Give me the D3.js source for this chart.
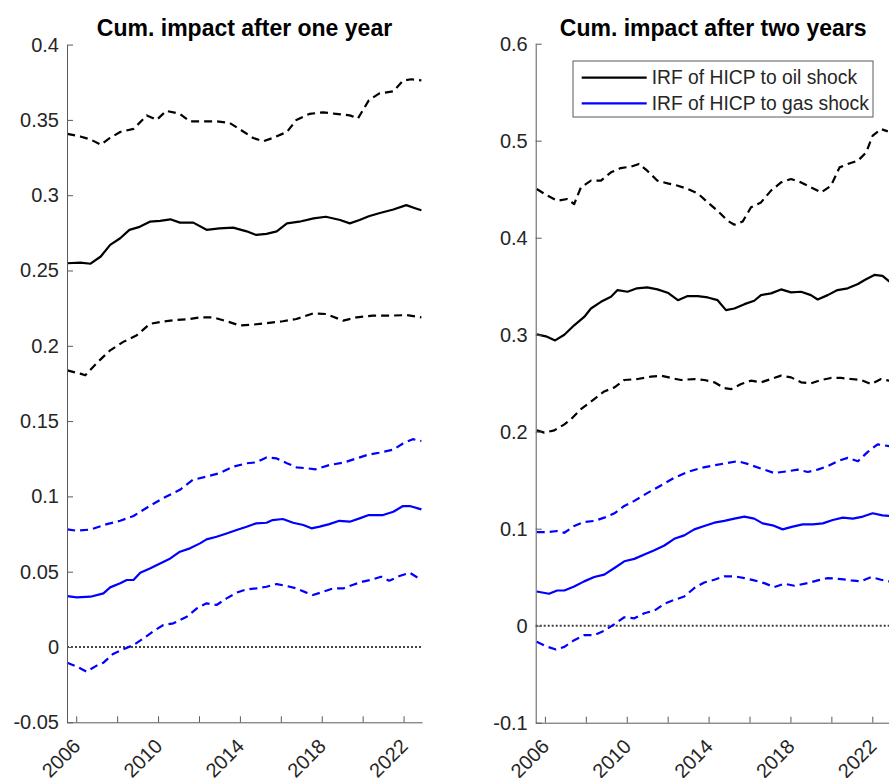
<!DOCTYPE html>
<html><head><meta charset="utf-8">
<script src="https://cdn.jsdelivr.net/npm/d3@7"></script>
<style>
body{margin:0;background:#fff;}
text{font-family:Arial,"Liberation Sans",Helvetica,sans-serif;}
</style>
</head><body>
<svg id="chart" width="889" height="778"></svg>
<script>
// ---------- data ----------
const titles = ["Cum. impact after one year", "Cum. impact after two years"];
const legendLabels = ["IRF of HICP to oil shock", "IRF of HICP to gas shock"];
const xTickYears = [2006, 2008, 2010, 2012, 2014, 2016, 2018, 2020, 2022];
const xTickLabels = ["2006", "", "2010", "", "2014", "", "2018", "", "2022"];
const xDomain = [2005.55, 2022.9];
const yTicksOne = [-0.05, 0, 0.05, 0.1, 0.15, 0.2, 0.25, 0.3, 0.35, 0.4];
const yTickLabelsOne = ["-0.05", "0", "0.05", "0.1", "0.15", "0.2", "0.25", "0.3", "0.35", "0.4"];
const yTicksTwo = [-0.1, 0, 0.1, 0.2, 0.3, 0.4, 0.5, 0.6];
const yTickLabelsTwo = ["-0.1", "0", "0.1", "0.2", "0.3", "0.4", "0.5", "0.6"];

// one year horizon: [year, value]
const oilUpperOne = [[2005.56,0.3407],[2006.2,0.339],[2006.7,0.337],[2007.2,0.3336],[2007.65,0.338],[2008.15,0.342],[2008.8,0.344],[2009.45,0.353],[2009.93,0.35],[2010.4,0.356],[2011.07,0.354],[2011.56,0.349],[2012.2,0.349],[2012.86,0.349],[2013.5,0.348],[2014.2,0.342],[2014.65,0.338],[2015.14,0.3358],[2015.6,0.338],[2016.3,0.342],[2016.76,0.35],[2017.4,0.354],[2018.07,0.355],[2018.7,0.354],[2019.37,0.353],[2019.77,0.351],[2020.3,0.363],[2020.8,0.3675],[2021.5,0.369],[2021.97,0.376],[2022.37,0.377],[2022.87,0.3763]];
const oilMidOne = [[2005.56,0.2548],[2006.2,0.2552],[2006.7,0.2545],[2007.2,0.2593],[2007.66,0.267],[2008.15,0.2714],[2008.6,0.277],[2009.1,0.279],[2009.6,0.2824],[2010.1,0.283],[2010.6,0.284],[2011.07,0.2818],[2011.72,0.2818],[2012.37,0.277],[2013.0,0.278],[2013.67,0.2785],[2014.33,0.276],[2014.8,0.2736],[2015.3,0.2743],[2015.8,0.276],[2016.3,0.2813],[2016.9,0.2824],[2017.6,0.2846],[2018.2,0.2857],[2018.9,0.2835],[2019.37,0.2813],[2019.85,0.2835],[2020.3,0.286],[2020.8,0.288],[2021.5,0.2905],[2022.13,0.2934],[2022.6,0.2912],[2022.87,0.29]];
const oilLowerOne = [[2005.56,0.1837],[2006.2,0.1815],[2006.44,0.1804],[2007.0,0.1885],[2007.66,0.197],[2008.3,0.2026],[2008.96,0.207],[2009.6,0.2146],[2010.26,0.2161],[2010.9,0.2172],[2011.56,0.2178],[2012.05,0.2189],[2012.7,0.2189],[2013.35,0.2163],[2014.0,0.2135],[2014.65,0.2141],[2015.3,0.215],[2016.1,0.2163],[2016.76,0.2178],[2017.57,0.2215],[2018.2,0.2211],[2019.05,0.2167],[2019.7,0.2189],[2020.5,0.22],[2021.3,0.22],[2022.13,0.2204],[2022.87,0.2189]];
const gasUpperOne = [[2005.56,0.0781],[2006.03,0.0772],[2006.7,0.078],[2007.5,0.0816],[2008.15,0.0838],[2008.8,0.087],[2009.45,0.0925],[2010.26,0.0989],[2011.07,0.1044],[2011.7,0.111],[2012.37,0.1132],[2013.0,0.1154],[2013.67,0.1197],[2014.33,0.122],[2014.8,0.1226],[2015.3,0.1259],[2015.8,0.1252],[2016.3,0.122],[2016.76,0.1193],[2017.25,0.1187],[2017.7,0.118],[2018.37,0.1208],[2019.05,0.1224],[2019.7,0.1252],[2020.2,0.1274],[2020.8,0.129],[2021.5,0.1311],[2021.97,0.1351],[2022.45,0.138],[2022.87,0.1368]];
const gasMidOne = [[2005.56,0.0338],[2006.03,0.033],[2006.7,0.0334],[2007.33,0.0356],[2007.66,0.0396],[2008.15,0.0423],[2008.47,0.0445],[2008.8,0.0445],[2009.13,0.0493],[2009.6,0.0522],[2010.1,0.0555],[2010.6,0.0588],[2011.07,0.0633],[2011.56,0.0655],[2012.05,0.0688],[2012.37,0.0715],[2012.86,0.0732],[2013.35,0.0754],[2013.84,0.0777],[2014.33,0.0799],[2014.8,0.0821],[2015.3,0.0825],[2015.6,0.0843],[2016.1,0.085],[2016.6,0.0825],[2017.1,0.081],[2017.5,0.0788],[2017.9,0.0799],[2018.37,0.0816],[2018.86,0.0838],[2019.37,0.0832],[2019.85,0.0854],[2020.3,0.0876],[2021.0,0.0876],[2021.5,0.0898],[2021.97,0.0936],[2022.3,0.0936],[2022.87,0.0914]];
const gasLowerOne = [[2005.56,-0.0104],[2006.03,-0.013],[2006.5,-0.0164],[2007.0,-0.0124],[2007.33,-0.0104],[2007.8,-0.0046],[2008.3,-0.0015],[2008.8,0.0013],[2009.3,0.0058],[2009.8,0.0108],[2010.26,0.0146],[2010.75,0.0157],[2011.4,0.0201],[2011.9,0.0257],[2012.37,0.029],[2012.86,0.0279],[2013.35,0.0323],[2013.84,0.0361],[2014.33,0.0383],[2014.8,0.0389],[2015.3,0.04],[2015.8,0.0418],[2016.3,0.0405],[2016.76,0.0389],[2017.25,0.0361],[2017.57,0.0345],[2018.07,0.0367],[2018.55,0.0389],[2019.05,0.0389],[2019.5,0.0412],[2020.0,0.0434],[2020.5,0.0449],[2020.9,0.0467],[2021.3,0.044],[2021.8,0.0471],[2022.3,0.0493],[2022.87,0.0445]];

// two year horizon: [year, value]
const oilUpperTwo = [[2005.6,0.4502],[2006.13,0.4433],[2006.6,0.4381],[2007.1,0.4399],[2007.43,0.4347],[2007.76,0.4519],[2008.25,0.4588],[2008.74,0.4588],[2009.23,0.4674],[2009.7,0.4718],[2010.2,0.4732],[2010.6,0.476],[2011.0,0.4691],[2011.5,0.4588],[2012.0,0.456],[2012.5,0.4536],[2012.98,0.4502],[2013.47,0.4457],[2013.96,0.4364],[2014.44,0.4278],[2014.93,0.4175],[2015.26,0.4134],[2015.67,0.4168],[2016.07,0.4313],[2016.56,0.4364],[2017.05,0.4485],[2017.54,0.457],[2018.03,0.4605],[2018.52,0.457],[2019.0,0.4519],[2019.5,0.4467],[2019.98,0.4536],[2020.4,0.4725],[2020.8,0.476],[2021.3,0.4794],[2021.7,0.488],[2022.02,0.5052],[2022.43,0.512],[2022.76,0.5096]];
const oilMidTwo = [[2005.6,0.3003],[2006.05,0.2983],[2006.5,0.2941],[2006.95,0.3],[2007.43,0.3097],[2007.92,0.3183],[2008.25,0.327],[2008.74,0.3339],[2009.23,0.3391],[2009.55,0.346],[2010.04,0.3443],[2010.5,0.3478],[2011.0,0.3488],[2011.5,0.3467],[2012.0,0.3433],[2012.5,0.3356],[2012.98,0.3398],[2013.47,0.3398],[2013.96,0.3384],[2014.44,0.3356],[2014.85,0.3253],[2015.26,0.327],[2015.75,0.3315],[2016.23,0.335],[2016.56,0.3408],[2017.05,0.3426],[2017.54,0.3467],[2018.03,0.3436],[2018.52,0.3443],[2019.0,0.3408],[2019.33,0.3363],[2019.82,0.3408],[2020.3,0.346],[2020.8,0.3478],[2021.3,0.3522],[2021.63,0.3564],[2022.1,0.3616],[2022.5,0.3606],[2022.84,0.3547]];
const oilLowerTwo = [[2005.6,0.2014],[2005.97,0.199],[2006.46,0.2014],[2006.95,0.2076],[2007.27,0.2128],[2007.76,0.2232],[2008.41,0.2336],[2008.9,0.2415],[2009.4,0.2457],[2009.88,0.2533],[2010.53,0.2543],[2011.18,0.2567],[2011.67,0.2578],[2012.16,0.2554],[2012.65,0.2533],[2013.3,0.2543],[2013.79,0.2533],[2014.28,0.2509],[2014.77,0.245],[2015.1,0.2439],[2015.59,0.2491],[2016.07,0.2526],[2016.56,0.2509],[2017.05,0.2543],[2017.54,0.2578],[2018.03,0.256],[2018.52,0.2509],[2019.0,0.2498],[2019.5,0.2533],[2019.98,0.2554],[2020.47,0.2554],[2020.96,0.2543],[2021.45,0.2533],[2021.94,0.2491],[2022.43,0.2543],[2022.84,0.2526]];
const gasUpperTwo = [[2005.6,0.0965],[2006.13,0.0965],[2006.6,0.0976],[2006.95,0.0958],[2007.43,0.1028],[2007.92,0.1069],[2008.41,0.108],[2008.9,0.1114],[2009.4,0.1159],[2009.88,0.1235],[2010.37,0.1287],[2011.0,0.1367],[2011.67,0.1446],[2012.3,0.1522],[2012.98,0.1585],[2013.63,0.1626],[2014.28,0.1654],[2014.93,0.1678],[2015.42,0.1696],[2015.9,0.1668],[2016.56,0.162],[2017.2,0.1574],[2017.87,0.1592],[2018.36,0.1609],[2018.85,0.1585],[2019.33,0.1609],[2019.82,0.1644],[2020.3,0.1696],[2020.8,0.173],[2021.3,0.1696],[2021.78,0.1792],[2022.26,0.1869],[2022.84,0.1851]];
const gasMidTwo = [[2005.6,0.0353],[2006.2,0.0329],[2006.6,0.0363],[2006.95,0.0363],[2007.43,0.0405],[2007.92,0.0457],[2008.41,0.0502],[2008.9,0.0526],[2009.4,0.0595],[2009.88,0.0664],[2010.37,0.0689],[2010.86,0.0734],[2011.35,0.0779],[2011.84,0.0827],[2012.32,0.0896],[2012.81,0.0931],[2013.3,0.0993],[2013.79,0.1028],[2014.28,0.1062],[2014.77,0.108],[2015.26,0.1104],[2015.75,0.1125],[2016.23,0.1104],[2016.64,0.1055],[2017.13,0.1035],[2017.62,0.0993],[2018.11,0.1021],[2018.6,0.1045],[2019.09,0.1045],[2019.58,0.1055],[2020.07,0.109],[2020.56,0.1114],[2021.05,0.1104],[2021.54,0.1125],[2022.02,0.1159],[2022.5,0.1138],[2022.84,0.1131]];
const gasLowerTwo = [[2005.6,-0.0166],[2006.13,-0.0218],[2006.54,-0.0246],[2006.95,-0.0218],[2007.43,-0.0149],[2007.92,-0.0097],[2008.41,-0.0097],[2008.9,-0.0052],[2009.4,0.0017],[2009.88,0.0087],[2010.37,0.0076],[2010.86,0.0128],[2011.35,0.0156],[2011.84,0.0225],[2012.32,0.0266],[2012.81,0.0301],[2013.3,0.0388],[2013.79,0.0446],[2014.28,0.0474],[2014.77,0.0509],[2015.26,0.0509],[2015.75,0.0491],[2016.23,0.0467],[2016.72,0.0439],[2017.2,0.0398],[2017.7,0.0433],[2018.19,0.0412],[2018.85,0.0439],[2019.33,0.0467],[2019.82,0.0491],[2020.47,0.0481],[2020.96,0.0467],[2021.45,0.0457],[2021.94,0.0502],[2022.43,0.0474],[2022.84,0.0457]];

// ---------- drawing ----------
const svg = d3.select("#chart");
svg.append("rect").attr("width", 889).attr("height", 778).attr("fill", "#fff");

const TEXT = "#262626", AXIS = "#5a5a5a";
const OIL = "#000000", GAS = "#0000ff";

function panel(cfg) {
  const x = d3.scaleLinear().domain(xDomain).range([cfg.left, cfg.right]);
  const y = d3.scaleLinear().domain(cfg.yDomain).range([cfg.bottom, cfg.top]);
  const g = svg.append("g");

  const line = d3.line().x(d => x(d[0])).y(d => y(d[1]));

  // zero line
  g.append("line")
    .attr("x1", x(xDomain[0])).attr("x2", x(xDomain[1]))
    .attr("y1", y(0)).attr("y2", y(0))
    .attr("stroke", "#444").attr("stroke-width", 2)
    .attr("stroke-dasharray", "2,2");

  cfg.series.forEach(s => {
    g.append("path").datum(s.data)
      .attr("d", line).attr("fill", "none")
      .attr("stroke", s.color).attr("stroke-width", 2.2)
      .attr("stroke-linejoin", "round")
      .attr("stroke-dasharray", s.dashed ? "8,5" : null);
  });

  // y axis
  const yAxis = d3.axisLeft(y).tickValues(cfg.yTicks)
    .tickFormat((d, i) => cfg.yLabels[i]).tickSize(-6).tickSizeOuter(0).tickPadding(8);
  const ya = g.append("g").attr("transform", `translate(${cfg.left},0)`).call(yAxis);
  ya.select(".domain").attr("stroke", AXIS);
  ya.selectAll(".tick line").attr("stroke", AXIS);
  ya.selectAll(".tick text").attr("fill", TEXT).style("font-size", "20px")
    .style("font-family", "Arial, 'Liberation Sans', sans-serif");

  // x axis
  const xAxis = d3.axisBottom(x).tickValues(xTickYears)
    .tickFormat((d, i) => xTickLabels[i]).tickSize(-6).tickSizeOuter(0);
  const xa = g.append("g").attr("transform", `translate(0,${cfg.bottom})`).call(xAxis);
  xa.select(".domain").attr("stroke", AXIS);
  xa.selectAll(".tick line").attr("stroke", AXIS);
  xa.selectAll(".tick text")
    .attr("fill", TEXT).style("font-size", "20px")
    .style("font-family", "Arial, 'Liberation Sans', sans-serif")
    .attr("text-anchor", "end").attr("dy", null).attr("y", null)
    .attr("transform", "translate(5,25) rotate(-45)");

  // title
  g.append("text").attr("x", (cfg.left + cfg.right) / 2).attr("y", 36)
    .attr("text-anchor", "middle").attr("fill", "#000")
    .style("font-size", "23px").style("font-weight", "bold")
    .text(cfg.title);
  return {x, y, g};
}

panel({
  left: 67, right: 422, top: 44.6, bottom: 722.3,
  yDomain: [-0.05, 0.4], yTicks: yTicksOne, yLabels: yTickLabelsOne, title: titles[0],
  series: [
    {data: oilUpperOne, color: OIL, dashed: true},
    {data: oilMidOne, color: OIL, dashed: false},
    {data: oilLowerOne, color: OIL, dashed: true},
    {data: gasUpperOne, color: GAS, dashed: true},
    {data: gasMidOne, color: GAS, dashed: false},
    {data: gasLowerOne, color: GAS, dashed: true}
  ]
});

panel({
  left: 535.7, right: 890.7, top: 43.7, bottom: 722.7,
  yDomain: [-0.1, 0.6], yTicks: yTicksTwo, yLabels: yTickLabelsTwo, title: titles[1],
  series: [
    {data: oilUpperTwo, color: OIL, dashed: true},
    {data: oilMidTwo, color: OIL, dashed: false},
    {data: oilLowerTwo, color: OIL, dashed: true},
    {data: gasUpperTwo, color: GAS, dashed: true},
    {data: gasMidTwo, color: GAS, dashed: false},
    {data: gasLowerTwo, color: GAS, dashed: true}
  ]
});

// legend
const lg = svg.append("g").attr("transform", "translate(573,61)");
lg.append("rect").attr("width", 300).attr("height", 56)
  .attr("fill", "#fff").attr("stroke", "#5a5a5a").attr("stroke-width", 1);
const legendColors = [OIL, GAS];
legendLabels.forEach((lab, i) => {
  const yy = 16.7 + i * 25.6;
  lg.append("line").attr("x1", 8.7).attr("x2", 73.7).attr("y1", yy).attr("y2", yy)
    .attr("stroke", legendColors[i]).attr("stroke-width", 2.2);
  lg.append("text").attr("x", 78.7).attr("y", yy).attr("dy", "0.35em")
    .attr("fill", TEXT).style("font-size", "19.3px").text(lab);
});
</script>
</body></html>
